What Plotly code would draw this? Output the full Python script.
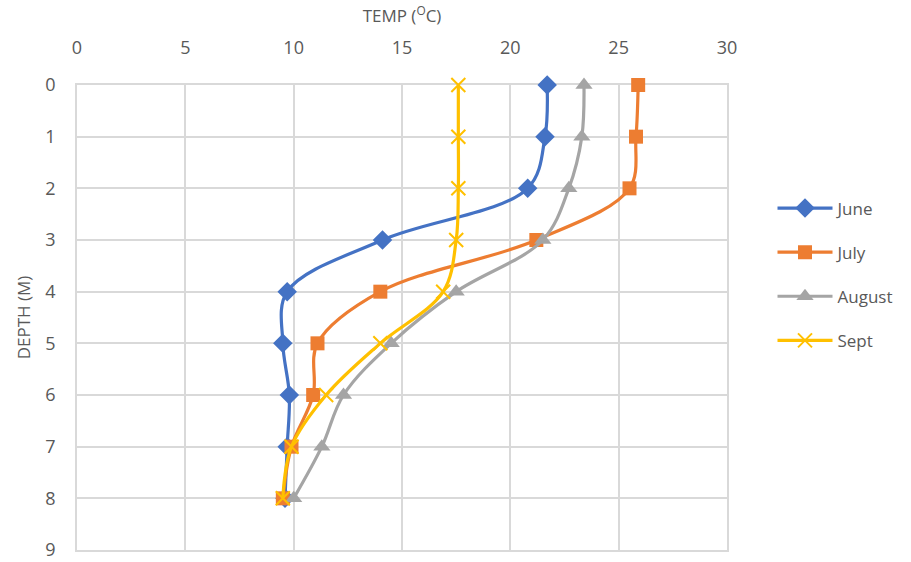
import plotly.graph_objects as go

depth = [0, 1, 2, 3, 4, 5, 6, 7, 8]
june = [21.7, 21.6, 20.8, 14.1, 9.7, 9.5, 9.8, 9.7, 9.6]
july = [25.9, 25.8, 25.5, 21.2, 14.0, 11.1, 10.9, 9.9, 9.5]
august = [23.4, 23.3, 22.7, 21.5, 17.5, 14.5, 12.3, 11.3, 10.0]
sept = [17.6, 17.6, 17.6, 17.5, 16.9, 14.0, 11.5, 9.9, 9.5]

series = [
    ("June", june, "#4472C4", "diamond", 15),
    ("July", july, "#ED7D31", "square", 14),
    ("August", august, "#A5A5A5", "triangle-up", 15),
    ("Sept", sept, "#FFC000", "x-thin", 14),
]

fig = go.Figure()
for name, vals, color, sym, size in series:
    marker = dict(symbol=sym, size=size, color=color)
    if sym == "x-thin":
        marker["line"] = dict(color=color, width=2)
    fig.add_trace(go.Scatter(
        x=vals, y=depth, name=name, mode="lines+markers",
        line=dict(color=color, width=3.2, shape="spline", smoothing=1.0),
        marker=marker, legendgroup=name, cliponaxis=False,
    ))

font = "Open Sans"
fig.update_layout(
    width=911, height=562,
    margin=dict(l=77, r=184, t=85, b=12, autoexpand=False),
    paper_bgcolor="white", plot_bgcolor="white",
    font=dict(family=font, size=16, color="#595959"),
    showlegend=True,
    legend=dict(x=1.07, y=0.5925, xanchor="left", yanchor="middle",
                font=dict(size=17, color="#595959"), tracegroupgap=19,
                itemwidth=55),
    xaxis=dict(
        side="top", range=[0, 30], dtick=5, tick0=0, automargin=False,
        showgrid=True, gridcolor="#d9d9d9", gridwidth=1.5,
        showline=True, linecolor="#d9d9d9", linewidth=1.5, mirror=True,
        zeroline=False, layer="below traces",
        ticks="outside", ticklen=22, tickcolor="rgba(0,0,0,0)",
        tickfont=dict(size=18, color="#595959"),
        title=dict(text="TEMP (<sup>O</sup>C)", font=dict(size=17, color="#595959"), standoff=8),
    ),
    yaxis=dict(
        range=[9, 0], dtick=1, tick0=0, automargin=False,
        showgrid=True, gridcolor="#d9d9d9", gridwidth=1.5,
        showline=True, linecolor="#d9d9d9", linewidth=1.5, mirror=True,
        zeroline=False, layer="below traces",
        ticks="outside", ticklen=16, tickcolor="rgba(0,0,0,0)",
        tickfont=dict(size=18, color="#595959"),
        title=dict(text="DEPTH (M)", font=dict(size=17, color="#595959"), standoff=10),
    ),
)

fig.write_html("out.html")
